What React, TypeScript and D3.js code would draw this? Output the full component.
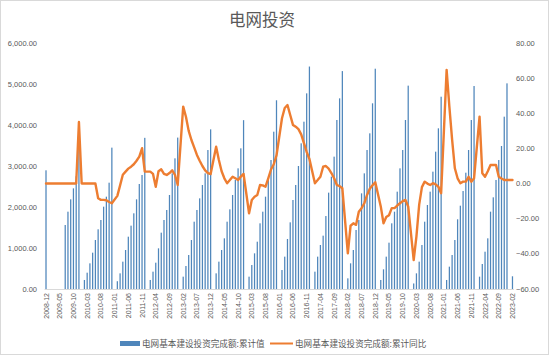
import React from "react";
import * as d3 from "d3";

// ---- DATA ----
const startYear = 2008;
const startMonth = 12;
const monthCount = 171; // 2008-12 .. 2023-02

// 电网基本建设投资完成额:累计值 (亿元), monthly, from 2008-12
const cumulativeValue: (number | null)[] = [
  2895,
  null, null, null, null, null, null, 1561, 1886, 2187, 2455, 2750, 3898,
  null, 220, 398, 626, 886, 1195, 1456, 1683, 2008, 2252, 2593, 3448,
  null, 190, 382, 667, 951, 1276, 1545, 1846, 2187, 2561, 2780, 3687,
  null, 220, 423, 642, 992, 1374, 1683, 1927, 2293, 2821, 3187, 3693,
  null, 301, 561, 829, 1195, 1642, 1927, 2211, 2537, 2821, 3390, 3894,
  null, 382, 667, 951, 1236, 1642, 1943, 2293, 2659, 2943, 3431, 4118,
  null, 301, 585, 870, 1154, 1602, 1886, 2252, 2659, 3146, 3837, 4603,
  null, 463, 789, 1220, 1626, 2171, 2537, 3000, 3553, 4081, 4772, 5426,
  null, 423, 789, 1073, 1301, 1780, 2350, 2740, 3228, 4122, 4650, 5315,
  null, 260, 626, 951, 1439, 1683, 2333, 2821, 3390, 3797, 4529, 5373,
  null, 220, 480, 789, 1130, 1602, 1886, 2374, 2943, 3390, 4122, 4960,
  null, 135, 382, 667, 1073, 1642, 2049, 2374, 2862, 3350, 3919, 4690,
  null, 220, 545, 829, 1195, 1700, 2032, 2390, 2837, 3390, 4122, 4951,
  null, 301, 610, 910, 1236, 1886, 2236, 2659, 3146, 3488, 4203, 5016,
  null, 310,
];

// 电网基本建设投资完成额:累计同比 (%), monthly, from 2008-12
const cumulativeYoY: (number | null)[] = [
  0,
  0, 0, 0, 0, 0, 0, 0, 0, 0, 0, 0, 35,
  0, 0, 0, 0, 0, 0, -8.4, -9.3, -9.3, -9.5, -10.5, -11.2,
  null, -7, -1, 5, 6.8, 8.5, 9.6, 11, 13, 15.3, 20.1, 6.8,
  null, 6.8, 5.5, -1.8, 7, 8.1, 5.5, 4.9, 6, 7.5, 5, -0.8,
  null, 43.8, 38, 30, 24.8, 20.6, 16.3, 13, 10, 7.5, 5.9, 5.4,
  null, 21, 13.4, 7, 3, 0.2, 2, 3.9, 3, 2, 4, 5.5,
  null, -16.9, -9.3, -7.5, -6.5, -0.8, -1, -1.8, 3, 8, 11, 16,
  null, 37.2, 43, 44.7, 39, 33.4, 32.4, 31, 28, 23, 18, 14,
  null, 0.2, 2, 3.9, 9.6, 10, 8.5, 6, 3, -0.8, -1.5, -2.7,
  null, -39.7, -24, -22.6, -23.5, -16, -14, -11.2, -6.5, -3, -1, 0.8,
  null, -13, -22.6, -19, -18, -14, -14, -12.5, -11.2, -10, -9.3, -13,
  null, -43.5, -30, -12, -2, 1.1, 0, -0.8, 0.2, -0.5, -1.8, -5.5,
  null, 64.7, 43.8, 25, 8.7, 3, 0.2, 1.1, 1.1, 3.9, 1.1, 3,
  null, 38.1, 5.9, 3.9, 7, 10.6, 10.6, 10.6, 3.9, 2.9, 2, 2,
  null, 2,
];

const leftTicks = [0, 1000, 2000, 3000, 4000, 5000, 6000];
const rightTicks = [-60, -40, -20, 0, 20, 40, 60, 80];
const labelEvery = 5;

const title = "电网投资";
const seriesNames = ["电网基本建设投资完成额:累计值", "电网基本建设投资完成额:累计同比"];

const months: string[] = [];
for (let i = 0; i < monthCount; i++) {
  const m0 = startMonth - 1 + i;
  const y = startYear + Math.floor(m0 / 12);
  const m = (m0 % 12) + 1;
  months.push(`${y}-${m < 10 ? "0" + m : m}`);
}

// ---- LAYOUT ----
const W = 550;
const H = 357;
const BLUE = "#4f86bb";
const ORANGE = "#ed7d31";
const GRAY = "#595959";
const numFont = "'Liberation Sans', Arial, sans-serif";
const cjkFont = "'Noto Sans CJK SC', sans-serif";

export default function App() {
  const x = d3.scaleBand<string>().domain(months).range([44.63, 513.85]).padding(0);
  const yL = d3.scaleLinear().domain([0, 6000]).range([289, 43]);
  const yR = d3.scaleLinear().domain([-60, 80]).range([289, 43]);
  const bw = x.bandwidth();
  const barW = 1.25;

  const linePts = months
    .map((m, i) => ({ m, v: cumulativeYoY[i] }))
    .filter((d) => d.v !== null) as { m: string; v: number }[];
  const line = d3
    .line<{ m: string; v: number }>()
    .x((d) => (x(d.m) as number) + bw / 2)
    .y((d) => yR(d.v));

  const fmtL = d3.format(",.2f");
  const fmtR = d3.format(".2f");

  return (
    <div style={{ position: "fixed", left: 0, top: 0 }}>
      <svg width={W} height={H} style={{ display: "block", background: "#fff" }}>
        <rect x={0.5} y={0.5} width={W - 2} height={H - 3} fill="#fff" stroke="#d9d9d9" />
        <text x={262} y={26} textAnchor="middle" fontFamily={cjkFont} fontSize={16.5} fill={GRAY}>
          {title}
        </text>
        {/* left axis labels */}
        {leftTicks.map((t) => (
          <text key={"l" + t} x={37} y={yL(t) + 2.6} textAnchor="end" fontFamily={numFont} fontSize={7.5} fill={GRAY}>
            {fmtL(t)}
          </text>
        ))}
        {/* right axis labels */}
        {rightTicks.map((t) => (
          <text key={"r" + t} x={516} y={yR(t) + 2.6} textAnchor="start" fontFamily={numFont} fontSize={7.5} fill={GRAY}>
            {fmtR(t)}
          </text>
        ))}
        {/* baseline */}
        <line x1={44.6} x2={513.9} y1={289.5} y2={289.5} stroke="#d9d9d9" strokeWidth={1} />
        {/* bars */}
        {months.map((m, i) => {
          const v = cumulativeValue[i];
          if (v === null || v === undefined) return null;
          const cx = (x(m) as number) + bw / 2;
          return <rect key={"b" + m} x={cx - barW / 2} y={yL(v)} width={barW} height={yL(0) - yL(v)} fill={BLUE} />;
        })}
        {/* line */}
        <path d={line(linePts) || ""} fill="none" stroke={ORANGE} strokeWidth={2.4} strokeLinejoin="round" strokeLinecap="round" />
        {/* x labels */}
        {months.map((m, i) => {
          if (i % labelEvery !== 0) return null;
          const cx = (x(m) as number) + bw / 2;
          return (
            <text
              key={"x" + m}
              transform={`translate(${cx + 2.5},293) rotate(-90)`}
              textAnchor="end"
              fontFamily={numFont}
              fontSize={7}
              fill={GRAY}
            >
              {m}
            </text>
          );
        })}
        {/* legend */}
        <rect x={120} y={341} width={20} height={5} fill={BLUE} />
        <text x={142} y={346.5} fontFamily={cjkFont} fontSize={8.6} fill={GRAY}>
          {seriesNames[0]}
        </text>
        <line x1={270} x2={293} y1={343.5} y2={343.5} stroke={ORANGE} strokeWidth={2} />
        <text x={295} y={346.5} fontFamily={cjkFont} fontSize={8.6} fill={GRAY}>
          {seriesNames[1]}
        </text>
      </svg>
    </div>
  );
}
